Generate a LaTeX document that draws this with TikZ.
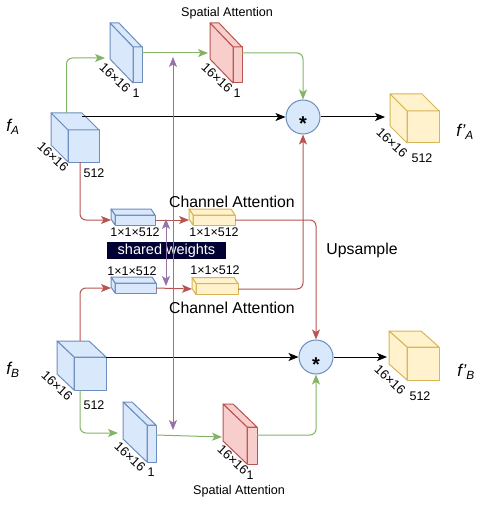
\documentclass[tikz,border=0pt]{standalone}
\usepackage{fontspec}
\setmainfont{Liberation Sans}
\usetikzlibrary{arrows.meta,positioning,calc}
\definecolor{dBlueFill}{HTML}{DAE8FC}
\definecolor{dBlueLine}{HTML}{6C8EBF}
\definecolor{dRedFill}{HTML}{F8CECC}
\definecolor{dRedLine}{HTML}{B85450}
\definecolor{dYellowFill}{HTML}{FFF2CC}
\definecolor{dYellowLine}{HTML}{D6B656}
\definecolor{dGreen}{HTML}{82B366}
\definecolor{dPurple}{HTML}{9673A6}
\definecolor{dNavy}{HTML}{000033}
% top and left faces of a box whose front face is node #1
\newcommand{\solidfaces}[4]{%
  \coordinate (#1-bnw) at ($(#1.north west)+(#2,#3)$);
  \coordinate (#1-bne) at ($(#1.north east)+(#2,#3)$);
  \coordinate (#1-bsw) at ($(#1.south west)+(#2,#3)$);
  \draw[#4] (#1.north west) -- (#1-bnw) -- (#1-bne) -- (#1.north east) -- cycle;
  \draw[#4] (#1.north west) -- (#1-bnw) -- (#1-bsw) -- (#1.south west) -- cycle;
}
\tikzset{
  % front faces
  face/.style={rectangle,inner sep=0pt,outer sep=0pt,line width=1pt,line join=round},
  bluebox/.style={face,draw=dBlueLine,fill=dBlueFill},
  redbox/.style={face,draw=dRedLine,fill=dRedFill},
  yellowbox/.style={face,draw=dYellowLine,fill=dYellowFill},
  % fusion node
  mulnode/.style={circle,minimum size=34pt,inner sep=0pt,line width=1pt,
    draw=dBlueLine,fill=dBlueFill,font=\fontsize{20}{20}\selectfont\bfseries},
  % arrows
  arr/.style={-{Stealth[length=10pt,width=8pt,inset=2.5pt]},line width=1pt,rounded corners=6pt},
  garr/.style={arr,color=dGreen},
  rarr/.style={arr,color=dRedLine},
  karr/.style={arr,color=black},
  parr/.style={{Stealth[length=10pt,width=8pt,inset=2.5pt]}-{Stealth[length=10pt,width=8pt,inset=2.5pt]},
    line width=1pt,color=dPurple},
  % labels
  dimlbl/.style={font=\fontsize{13}{13}\selectfont,rotate=-43,inner sep=0pt},
  numlbl/.style={font=\fontsize{12.5}{13}\selectfont,inner sep=0pt},
  ttl/.style={font=\fontsize{15.8}{16}\selectfont,inner sep=0pt},
  sttl/.style={font=\fontsize{12.6}{13}\selectfont,inner sep=0pt},
  feat/.style={font=\fontsize{17}{17}\selectfont\itshape,inner sep=0pt},
}
\begin{document}
\begin{tikzpicture}[x=1pt,y=-1pt]
  \useasboundingbox (0,0) rectangle (491,505);

  % ---- branch A
  \node[bluebox,minimum width=31pt,minimum height=32pt] (cubeA) at (83.5,146) {};
  \solidfaces{cubeA}{-17}{-17}{bluebox}
  \node[bluebox,minimum width=9pt,minimum height=36pt] (saA1) at (137.5,65) {};
  \solidfaces{saA1}{-23}{-24}{bluebox}
  \node[redbox,minimum width=9pt,minimum height=36pt] (saA2) at (237.5,65) {};
  \solidfaces{saA2}{-23}{-24}{redbox}
  \node[bluebox,minimum width=40pt,minimum height=10pt] (caA1) at (135,220) {};
  \solidfaces{caA1}{-4}{-6}{bluebox}
  \node[yellowbox,minimum width=42pt,minimum height=10pt] (caA2) at (214,220) {};
  \solidfaces{caA2}{-4}{-6}{yellowbox}
  \node[mulnode] (mulA) at (303,117) {\smash{\raisebox{-0.7em}{*}}};
  \node[yellowbox,minimum width=32pt,minimum height=32pt] (outA) at (423,127) {};
  \solidfaces{outA}{-17}{-17}{yellowbox}

  % ---- branch B
  \node[bluebox,minimum width=32pt,minimum height=33pt] (cubeB) at (90,373.5) {};
  \solidfaces{cubeB}{-17}{-16}{bluebox}
  \node[bluebox,minimum width=9pt,minimum height=37pt] (saB1) at (151.5,443.5) {};
  \solidfaces{saB1}{-24}{-23}{bluebox}
  \node[redbox,minimum width=10pt,minimum height=37pt] (saB2) at (252,445.5) {};
  \solidfaces{saB2}{-24}{-23}{redbox}
  \node[bluebox,minimum width=41pt,minimum height=10pt] (caB1) at (135.5,288) {};
  \solidfaces{caB1}{-4}{-6}{bluebox}
  \node[yellowbox,minimum width=42pt,minimum height=11pt] (caB2) at (217,289) {};
  \solidfaces{caB2}{-4}{-6}{yellowbox}
  \node[mulnode] (mulB) at (316,357) {\smash{\raisebox{-0.7em}{*}}};
  \node[yellowbox,minimum width=32pt,minimum height=33pt] (outB) at (423,363.5) {};
  \solidfaces{outB}{-18}{-16}{yellowbox}

  % ---- connectors A
  \draw[garr] ($(cubeA-bnw)!.5!(cubeA-bne)$) |- ($(saA1-bsw)+(-5,-1)$);
  \draw[garr] ([yshift=12pt]saA1.east) -- ([yshift=12pt,xshift=-25pt]saA2.west);
  \draw[garr] ([yshift=12pt]saA2.east) -| (mulA.north);
  \draw[karr] (cubeA-bne |- mulA.west) -- (mulA.west);
  \draw[karr] (mulA.east) -- ($(outA-bnw |- mulA.east)+(-5,0)$);
  \draw[rarr] ([xshift=-3.5pt]cubeA.south) |- ([xshift=-4pt]caA1.west);
  \draw[rarr] (caA1.east) -- ([xshift=-4pt]caA2.west);
  \draw[rarr] (caA2.east) -| (mulB.north);

  % ---- connectors B
  \draw[rarr] ($(cubeB-bnw)+(23,0)$) |- ([xshift=-4pt]caB1.west);
  \draw[rarr] (caB1.east) -- ([xshift=-4pt]caB2.west);
  \draw[rarr] (caB2.east) -| (mulA.south);
  \draw[karr] (cubeB.north east) -- (mulB.west);
  \draw[karr] (mulB.east) -- ($(outB-bnw |- mulB.east)+(-2,0)$);
  \draw[garr] ([xshift=-10pt]cubeB.south) |- ($(saB1-bsw)+(-5,-6)$);
  \draw[garr] ([yshift=8.5pt]saB1.east) -- ([yshift=8.5pt,xshift=-25pt]saB2.west);
  \draw[garr] ([yshift=10.5pt]saB2.east) -| (mulB.south);

  % ---- shared weights
  \node[fill=dNavy,text=white,minimum width=119pt,minimum height=17pt,inner sep=0pt,
    font=\fontsize{14.5}{15}\selectfont] (shared) at (166.5,250.5) {shared weights};
  \coordinate (swTop) at (166,219);
  \coordinate (swBot) at (166,286);
  \coordinate (spTop) at (173,57);
  \coordinate (spBot) at (173,430);
  \draw[parr] (swTop) -- (swBot);
  \draw[parr] (spTop) -- (spBot);

  % ---- texts
  \node[sttl] (saTtlA) at (227,13) {Spatial Attention};
  \node[sttl] (saTtlB) at (239,491) {Spatial Attention};
  \node[ttl] (caTtlA) at (232,202) {Channel Attention};
  \node[ttl] (caTtlB) at (232,308) {Channel Attention};
  \node[ttl] (upTtl) at (362,250) {Upsample};
  \node[numlbl,below=3pt of caA1] (dimCaA1) {1×1×512};
  \node[numlbl,below=3pt of caA2] (dimCaA2) {1×1×512};
  \node[numlbl] (dimCaB1) at (132,271) {1×1×512};
  \node[numlbl] (dimCaB2) at (215,270) {1×1×512};

  \node[dimlbl] (dCubeA) at (53,157) {16×16};
  \node[dimlbl] (dSaA1) at (115,78) {16×16};
  \node[dimlbl] (dSaA2) at (217,78) {16×16};
  \node[dimlbl] (dCubeB) at (57,386) {16×16};
  \node[dimlbl] (dSaB1) at (130,457) {16×16};
  \node[dimlbl] (dSaB2) at (233,460) {16×16};
  \node[dimlbl] (dOutA) at (392,143) {16×16};
  \node[dimlbl] (dOutB) at (390,380) {16×16};

  \node[numlbl] (cSaA1) at (136,93) {1};
  \node[numlbl] (cSaA2) at (237,93) {1};
  \node[numlbl] (cSaB1) at (151,472) {1};
  \node[numlbl] (cSaB2) at (250,475) {1};
  \node[numlbl] (cCubeA) at (94,173) {512};
  \node[numlbl] (cCubeB) at (94,405) {512};
  \node[numlbl] (cOutA) at (422,158) {512};
  \node[numlbl] (cOutB) at (420,396) {512};

  \node[feat] (fA) at (13,127) {f\textsubscript{A}};
  \node[feat] (fB) at (13,370) {f\textsubscript{B}};
  \node[feat] (fpA) at (465,132) {f\kern0.5pt'\textsubscript{A}};
  \node[feat] (fpB) at (466,372) {f\kern0.5pt'\textsubscript{B}};
\end{tikzpicture}
\end{document}
